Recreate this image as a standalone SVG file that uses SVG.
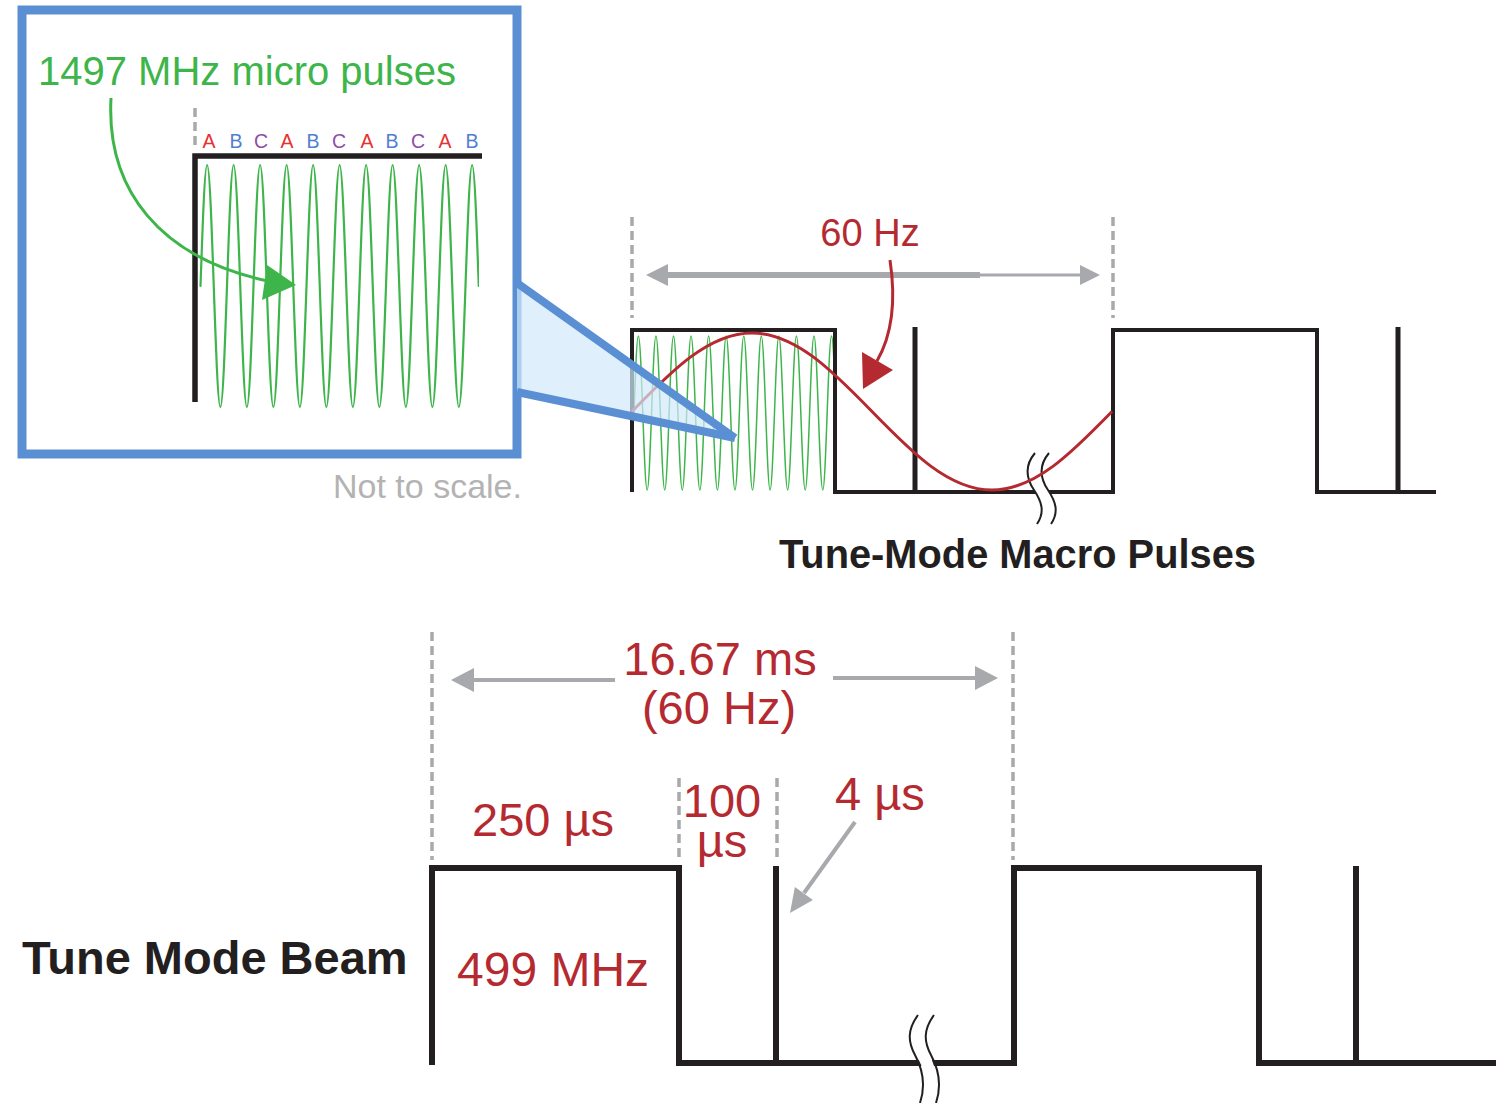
<svg xmlns="http://www.w3.org/2000/svg" width="1496" height="1103" viewBox="0 0 1496 1103">
<style>
.wave{fill:none;stroke:#3db54a;stroke-linecap:round;stroke-linejoin:round}
.blk{fill:none;stroke:#231f20;stroke-linejoin:miter;stroke-linecap:butt}
.dash{fill:none;stroke:#a7a9ac;stroke-width:3.5;stroke-dasharray:9 5}
.gray{fill:none;stroke:#a7a9ac}
.grayh{fill:#a7a9ac}
.red{fill:#b52a30}
.t{font-family:"Liberation Sans",Arial,sans-serif}
.rt{font-family:"Liberation Sans",Arial,sans-serif;fill:#b52a30}
.brk{fill:none;stroke:#231f20;stroke-width:2}
.brkw{fill:none;stroke:#ffffff;stroke-width:12}
</style>
<defs>
<clipPath id="clipInset"><rect x="199" y="150" width="280" height="270"/></clipPath>
<clipPath id="clipPulse"><rect x="634" y="330" width="199" height="165"/></clipPath>
</defs>
<rect width="1496" height="1103" fill="#ffffff"/>

<g id="inset">
<rect x="22" y="10" width="495" height="444" fill="#ffffff" stroke="#5b8fd4" stroke-width="9"/>
<text class="t" x="38" y="85" font-size="40" fill="#3db54a">1497 MHz micro pulses</text>
<line class="dash" x1="195" y1="108" x2="195" y2="150" stroke-width="2.5"/>
<g class="t" font-size="19.5" text-anchor="middle">
<text x="209" y="148" fill="#e5312f">A</text>
<text x="236" y="148" fill="#4f7fcf">B</text>
<text x="261" y="148" fill="#8d4ca8">C</text>
<text x="287" y="148" fill="#e5312f">A</text>
<text x="313" y="148" fill="#4f7fcf">B</text>
<text x="339" y="148" fill="#8d4ca8">C</text>
<text x="367" y="148" fill="#e5312f">A</text>
<text x="392" y="148" fill="#4f7fcf">B</text>
<text x="418" y="148" fill="#8d4ca8">C</text>
<text x="445" y="148" fill="#e5312f">A</text>
<text x="472" y="148" fill="#4f7fcf">B</text>
</g>
<path class="wave" stroke-width="2.2" clip-path="url(#clipInset)" d="M200.5,286
c2.16,-62 4.23,-121 6.625,-121 c2.4,0 4.46,59 6.625,121 c2.16,62 4.23,121 6.625,121 c2.4,0 4.46,-59 6.625,-121
c2.16,-62 4.23,-121 6.625,-121 c2.4,0 4.46,59 6.625,121 c2.16,62 4.23,121 6.625,121 c2.4,0 4.46,-59 6.625,-121
c2.16,-62 4.23,-121 6.625,-121 c2.4,0 4.46,59 6.625,121 c2.16,62 4.23,121 6.625,121 c2.4,0 4.46,-59 6.625,-121
c2.16,-62 4.23,-121 6.625,-121 c2.4,0 4.46,59 6.625,121 c2.16,62 4.23,121 6.625,121 c2.4,0 4.46,-59 6.625,-121
c2.16,-62 4.23,-121 6.625,-121 c2.4,0 4.46,59 6.625,121 c2.16,62 4.23,121 6.625,121 c2.4,0 4.46,-59 6.625,-121
c2.16,-62 4.23,-121 6.625,-121 c2.4,0 4.46,59 6.625,121 c2.16,62 4.23,121 6.625,121 c2.4,0 4.46,-59 6.625,-121
c2.16,-62 4.23,-121 6.625,-121 c2.4,0 4.46,59 6.625,121 c2.16,62 4.23,121 6.625,121 c2.4,0 4.46,-59 6.625,-121
c2.16,-62 4.23,-121 6.625,-121 c2.4,0 4.46,59 6.625,121 c2.16,62 4.23,121 6.625,121 c2.4,0 4.46,-59 6.625,-121
c2.16,-62 4.23,-121 6.625,-121 c2.4,0 4.46,59 6.625,121 c2.16,62 4.23,121 6.625,121 c2.4,0 4.46,-59 6.625,-121
c2.16,-62 4.23,-121 6.625,-121 c2.4,0 4.46,59 6.625,121 c2.16,62 4.23,121 6.625,121 c2.4,0 4.46,-59 6.625,-121
c2.16,-62 4.23,-121 6.625,-121 c2.4,0 4.46,59 6.625,121"/>
<path class="blk" stroke-width="5.5" d="M195,402 V156 H482"/>
<path fill="none" stroke="#3db54a" stroke-width="3" d="M111,98 C106,190 160,258 268,281"/>
<polygon fill="#3db54a" points="296,285 267,265 262,300"/>
</g>

<g id="top-waveform">
<line class="dash" x1="632" y1="217" x2="632" y2="318"/>
<line class="dash" x1="1113" y1="217" x2="1113" y2="318"/>
<path class="wave" stroke-width="1.5" clip-path="url(#clipPulse)" d="M634,413
c1.43,-39.45 2.8,-77 4.39,-77 c1.59,0 2.96,37.55 4.39,77 c1.43,39.45 2.8,77 4.39,77 c1.59,0 2.96,-37.55 4.39,-77
c1.43,-39.45 2.8,-77 4.39,-77 c1.59,0 2.96,37.55 4.39,77 c1.43,39.45 2.8,77 4.39,77 c1.59,0 2.96,-37.55 4.39,-77
c1.43,-39.45 2.8,-77 4.39,-77 c1.59,0 2.96,37.55 4.39,77 c1.43,39.45 2.8,77 4.39,77 c1.59,0 2.96,-37.55 4.39,-77
c1.43,-39.45 2.8,-77 4.39,-77 c1.59,0 2.96,37.55 4.39,77 c1.43,39.45 2.8,77 4.39,77 c1.59,0 2.96,-37.55 4.39,-77
c1.43,-39.45 2.8,-77 4.39,-77 c1.59,0 2.96,37.55 4.39,77 c1.43,39.45 2.8,77 4.39,77 c1.59,0 2.96,-37.55 4.39,-77
c1.43,-39.45 2.8,-77 4.39,-77 c1.59,0 2.96,37.55 4.39,77 c1.43,39.45 2.8,77 4.39,77 c1.59,0 2.96,-37.55 4.39,-77
c1.43,-39.45 2.8,-77 4.39,-77 c1.59,0 2.96,37.55 4.39,77 c1.43,39.45 2.8,77 4.39,77 c1.59,0 2.96,-37.55 4.39,-77
c1.43,-39.45 2.8,-77 4.39,-77 c1.59,0 2.96,37.55 4.39,77 c1.43,39.45 2.8,77 4.39,77 c1.59,0 2.96,-37.55 4.39,-77
c1.43,-39.45 2.8,-77 4.39,-77 c1.59,0 2.96,37.55 4.39,77 c1.43,39.45 2.8,77 4.39,77 c1.59,0 2.96,-37.55 4.39,-77
c1.43,-39.45 2.8,-77 4.39,-77 c1.59,0 2.96,37.55 4.39,77 c1.43,39.45 2.8,77 4.39,77 c1.59,0 2.96,-37.55 4.39,-77
c1.43,-39.45 2.8,-77 4.39,-77 c1.59,0 2.96,37.55 4.39,77 c1.43,39.45 2.8,77 4.39,77 c1.59,0 2.96,-37.55 4.39,-77
c1.43,-39.45 2.8,-77 4.39,-77 c1.59,0 2.96,37.55 4.39,77 c1.43,39.45 2.8,77 4.39,77 c1.59,0 2.96,-37.55 4.39,-77"/>
<path class="blk" stroke-width="4" d="M632,492 V330 H835 V492 H1113 V330 H1317 V492 H1436"/>
<path class="brkw" d="M1042,453 C1031,466 1033,478 1041,490 C1049,502 1052,512 1044,524"/>
<path class="brk" d="M1035,453 C1024,466 1026,478 1034,490 C1042,502 1045,512 1037,524"/>
<path class="brk" d="M1049,453 C1038,466 1040,478 1048,490 C1056,502 1059,512 1051,524"/>
<line class="blk" stroke-width="5" x1="915" y1="327" x2="915" y2="492"/>
<line class="blk" stroke-width="5" x1="1398" y1="327" x2="1398" y2="492"/>
<path fill="none" stroke="#b52a30" stroke-width="3" d="M632,411.5 c39.14,-40.22 76.57,-78.5 120,-78.5 c43.43,0 80.86,38.28 120,78.5 c39.14,40.22 76.57,78.5 120,78.5 c43.43,0 80.86,-38.28 120,-78.5"/>
</g>

<g id="callout">
<polygon points="517,283 735,438 517,392" fill="#d2e8fb" fill-opacity="0.7" stroke="none"/>
<line x1="517" y1="283" x2="735" y2="438" stroke="#5b8fd4" stroke-width="8"/>
<line x1="517" y1="392" x2="735" y2="438" stroke="#5b8fd4" stroke-width="8"/>
</g>

<g id="bottom-waveform">
<line class="dash" x1="432" y1="632" x2="432" y2="860"/>
<line class="dash" x1="1013" y1="632" x2="1013" y2="860"/>
<line class="dash" x1="679" y1="778" x2="679" y2="862"/>
<line class="dash" x1="777" y1="778" x2="777" y2="860"/>
<path class="blk" stroke-width="6" d="M432,1065 V868 H679 V1063 H1014 V868 H1259 V1063 H1496"/>
<line class="blk" stroke-width="6" x1="776" y1="866" x2="776" y2="1063"/>
<line class="blk" stroke-width="6" x1="1356" y1="866" x2="1356" y2="1063"/>
<path class="brkw" d="M926,1015 C915,1030 916,1042 923,1055 C930,1068 934,1085 928,1103"/>
<path class="brk" d="M918,1015 C907,1030 908,1042 915,1055 C922,1068 926,1085 920,1103"/>
<path class="brk" d="M934,1015 C923,1030 924,1042 931,1055 C938,1068 942,1085 936,1103"/>
</g>

<g id="connectors">
<line class="gray" stroke-width="6" x1="664" y1="275" x2="980" y2="275"/>
<line class="gray" stroke-width="3" x1="980" y1="275" x2="1084" y2="275"/>
<polygon class="grayh" points="646,275 668,264 668,286"/>
<polygon class="grayh" points="1100,275 1080,265 1080,285"/>
<path fill="none" stroke="#b52a30" stroke-width="3" d="M890,260 C896,300 892,335 877,361"/>
<polygon class="red" points="862,352 893,370 863,389"/>
<line class="gray" stroke-width="4" x1="470" y1="680" x2="615" y2="680"/>
<polygon class="grayh" points="451,680 474,668 474,692"/>
<line class="gray" stroke-width="4" x1="833" y1="678" x2="978" y2="678"/>
<polygon class="grayh" points="998,678 975,666 975,690"/>
<line class="gray" stroke-width="4" x1="855" y1="822" x2="804" y2="893"/>
<polygon class="grayh" points="790,913 812.9,899.9 794.9,887.1"/>
</g>

<g id="labels">
<text class="t" x="333" y="498" font-size="34" fill="#b3b3b3">Not to scale.</text>
<text class="rt" x="870" y="246" font-size="38" text-anchor="middle">60 Hz</text>
<text class="t" x="779" y="568" font-size="39.8" font-weight="bold" fill="#231f20">Tune-Mode Macro Pulses</text>
<text class="rt" x="720" y="675" font-size="47" text-anchor="middle">16.67 ms</text>
<text class="rt" x="719" y="724" font-size="47" text-anchor="middle">(60 Hz)</text>
<text class="rt" x="472" y="836" font-size="47">250 µs</text>
<text class="rt" font-size="47" text-anchor="middle"><tspan x="722" y="817">100</tspan><tspan x="722" y="857">µs</tspan></text>
<text class="rt" x="835" y="810" font-size="47">4 µs</text>
<text class="rt" x="457" y="986" font-size="48">499 MHz</text>
<text class="t" x="22" y="974" font-size="47" font-weight="bold" fill="#231f20">Tune Mode Beam</text>
</g>
</svg>
